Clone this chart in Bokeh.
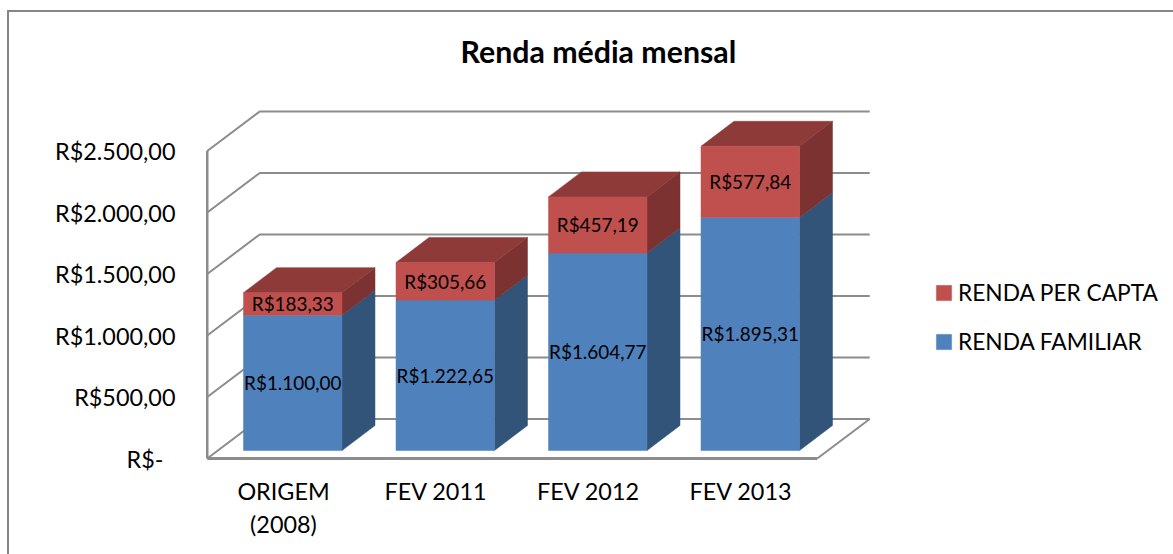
from bokeh.plotting import figure
from bokeh.models import (Range1d, FixedTicker, Legend, LegendItem, Title, ColumnDataSource)
from bokeh.core.properties import value
from bokeh.embed import file_html
from bokeh.resources import INLINE

categories = ["ORIGEM\n(2008)", "FEV 2011", "FEV 2012", "FEV 2013"]
renda_familiar = [1100.00, 1222.65, 1604.77, 1895.31]
renda_per_capta = [183.33, 305.66, 457.19, 577.84]
familiar_labels = ["R$1.100,00", "R$1.222,65", "R$1.604,77", "R$1.895,31"]
capta_labels = ["R$183,33", "R$305,66", "R$457,19", "R$577,84"]
y_ticks = [0, 500, 1000, 1500, 2000, 2500]
y_tick_labels = ["R$-\u00a0\u00a0", "R$500,00", "R$1.000,00", "R$1.500,00", "R$2.000,00", "R$2.500,00"]

FONT = "Lato"
PX_CAT = 152.5     # pixels per category slot
PX_VAL = 0.123     # pixels per real
W, H = 1173, 554
FRAME_L, FRAME_R, FRAME_T, FRAME_B = 204, 1173, 68, 460
ZERO_PX, FIRST_CAT_PX = 458, 283

def dx(px):
    return px / PX_CAT

def dy(px):
    return px / PX_VAL

p = figure(width=W, height=H, output_backend="svg", toolbar_location=None,
           x_range=Range1d((FRAME_L - FIRST_CAT_PX) / PX_CAT, (FRAME_R - FIRST_CAT_PX) / PX_CAT),
           y_range=Range1d((ZERO_PX - FRAME_B) / PX_VAL, (ZERO_PX - FRAME_T) / PX_VAL),
           min_border_left=FRAME_L, min_border_right=W - FRAME_R,
           min_border_top=FRAME_T, min_border_bottom=H - FRAME_B)
p.outline_line_color = None
p.background_fill_color = None
p.border_fill_color = None
p.xgrid.visible = False
p.ygrid.visible = False
# chart border: top and left edges of the chart area
BORDER = "linear-gradient(#868686,#868686)"
p.styles = {"background": f"{BORDER} 7px 10px/100% 2px no-repeat, "
                          f"{BORDER} 7px 10px/2px 100% no-repeat, #ffffff"}

# walls and floor
GRID = "#8c8c8c"
x0 = -0.5                 # front left corner of the floor
x1 = x0 + len(categories)  # front right corner
wall_dx, wall_dy = dx(52.5), dy(39.5)
gx, gy = [], []
for t in y_ticks:
    gx.append([x0, x0 + wall_dx, x1 + wall_dx])
    gy.append([t, t + wall_dy, t + wall_dy])
p.multi_line(gx, gy, line_color=GRID, line_width=2)
p.line([x0, x0], [0, y_ticks[-1]], line_color=GRID, line_width=2.5)
p.line([x1, x1 + wall_dx], [0, wall_dy], line_color=GRID, line_width=2)
p.line([x0, x1], [0, 0], line_color=GRID, line_width=3)

# bars
BAR_L, BAR_W = dx(-40), dx(98.5)
base = dy(8)
depth_x, depth_y = dx(33), dy(25)
lefts = [i + BAR_L for i in range(len(categories))]
rights = [l + BAR_W for l in lefts]
fam_bottom = [base] * len(categories)
fam_top = [base + v for v in renda_familiar]
cap_top = [a + b for a, b in zip(fam_top, renda_per_capta)]

def side(bottom, top):
    return ([[r, r + depth_x, r + depth_x, r] for r in rights],
            [[b, b + depth_y, t + depth_y, t] for b, t in zip(bottom, top)])

sx, sy = side(fam_bottom, fam_top)
p.patches(sx, sy, fill_color="#335479", line_color="#335479", line_width=0.5)
sx, sy = side(fam_top, cap_top)
p.patches(sx, sy, fill_color="#7C3230", line_color="#7C3230", line_width=0.5)
tx = [[l, r, r + depth_x, l + depth_x] for l, r in zip(lefts, rights)]
ty = [[t, t, t + depth_y, t + depth_y] for t in cap_top]
p.patches(tx, ty, fill_color="#8E3A38", line_color="#8E3A38", line_width=0.5)

blue = p.quad(left=lefts, right=rights, bottom=fam_bottom, top=fam_top,
              fill_color="#4F81BD", line_color="#4F81BD", line_width=0.5)
red = p.quad(left=lefts, right=rights, bottom=fam_top, top=cap_top,
             fill_color="#C0504D", line_color="#C0504D", line_width=0.5)

# data labels
centers = [(l + r) / 2 for l, r in zip(lefts, rights)]
src = ColumnDataSource(dict(x=centers + centers,
                            y=[(a + b) / 2 for a, b in zip(fam_bottom, fam_top)] +
                              [(a + b) / 2 for a, b in zip(fam_top, cap_top)],
                            t=familiar_labels + capta_labels))
p.text(x="x", y="y", text="t", source=src, text_font=value(FONT), text_font_size="18.9px",
       text_color="#000000", text_align="center", text_baseline="middle")

# axes
p.xaxis.ticker = FixedTicker(ticks=list(range(len(categories))))
p.xaxis.major_label_overrides = {i: c for i, c in enumerate(categories)}
p.yaxis.ticker = FixedTicker(ticks=y_ticks)
p.yaxis.major_label_overrides = {t: l for t, l in zip(y_ticks, y_tick_labels)}
for ax in (p.xaxis[0], p.yaxis[0]):
    ax.axis_line_color = None
    ax.major_tick_line_color = None
    ax.minor_tick_line_color = None
    ax.major_label_text_font = FONT
    ax.major_label_text_font_size = "23.4px"
    ax.major_label_text_color = "#000000"
p.xaxis[0].major_label_standoff = 10
p.yaxis[0].major_label_standoff = 23

# legend
legend = Legend(items=[LegendItem(label="RENDA PER CAPTA", renderers=[red]),
                       LegendItem(label="RENDA FAMILIAR", renderers=[blue])],
                location=(934 - FRAME_L, FRAME_B - 355),
                orientation="vertical", background_fill_alpha=0, border_line_color=None,
                glyph_width=19, glyph_height=19, label_standoff=5, spacing=22,
                padding=0, margin=0, label_text_font=FONT, label_text_font_size="22.7px",
                label_text_color="#000000", label_text_baseline="middle")
p.add_layout(legend, "center")

# title
p.title = Title(text="Renda média mensal", align="left", offset=256, standoff=0,
                text_font=FONT, text_font_size="30.3px", text_font_style="bold",
                text_color="#000000")

open("out.html", "w").write(file_html(p, INLINE))
